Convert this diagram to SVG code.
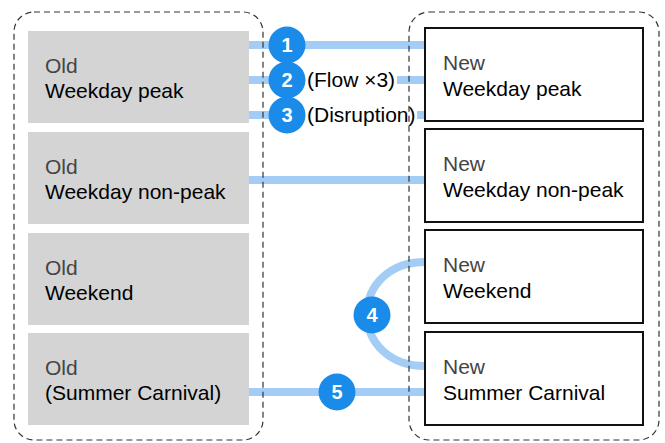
<svg xmlns="http://www.w3.org/2000/svg" width="665" height="443" viewBox="0 0 665 443">
<style>
.cont{fill:none;stroke:#333;stroke-width:1.2;stroke-dasharray:6 4}
.old{fill:#d4d4d4}
.new{fill:#fff;stroke:#111;stroke-width:2}
.lt{font-family:"Liberation Sans",Arial,sans-serif;font-size:21px;fill:#444}
.tt{font-family:"Liberation Sans",Arial,sans-serif;font-size:21px;fill:#000}
.lbl{font-family:"Liberation Sans",Arial,sans-serif;font-size:21px;fill:#000}
.ln{fill:none;stroke:#a3cdf5;stroke-width:8}
.cir{fill:#1a8be8}
.num{font-family:"Liberation Sans",Arial,sans-serif;font-size:20px;font-weight:bold;fill:#fff;text-anchor:middle}
</style>
<rect width="665" height="443" fill="#fff"/>
<g id="connectors">
<line class="ln" x1="249" y1="45" x2="425" y2="45"/>
<line class="ln" x1="249" y1="80" x2="425" y2="80"/>
<line class="ln" x1="249" y1="115" x2="425" y2="115"/>
<line class="ln" x1="249" y1="180" x2="425" y2="180"/>
<path class="ln" d="M425,262 C390,262 367,285 367,314 C367,343 390,366 425,366"/>
<line class="ln" x1="249" y1="392" x2="425" y2="392"/>
<rect x="305" y="66" width="92" height="28" fill="#fff"/>
<rect x="305" y="101" width="112" height="28" fill="#fff"/>
<text class="lbl" x="307" y="87">(Flow ×3)</text>
<text class="lbl" x="307" y="122">(Disruption)</text>
</g>
<g id="containers">
<rect id="old-group" class="cont" x="14" y="12" width="249" height="428" rx="20"/>
<rect id="new-group" class="cont" x="409" y="12" width="250" height="428" rx="20"/>
</g>
<g id="old-peak"><rect class="old" x="28" y="31" width="221" height="92"/><text class="lt" x="45" y="73">Old</text><text class="tt" x="45" y="98">Weekday peak</text></g>
<g id="old-nonpeak"><rect class="old" x="28" y="132" width="221" height="92"/><text class="lt" x="45" y="174">Old</text><text class="tt" x="45" y="199">Weekday non-peak</text></g>
<g id="old-weekend"><rect class="old" x="28" y="233" width="221" height="92"/><text class="lt" x="45" y="275">Old</text><text class="tt" x="45" y="300">Weekend</text></g>
<g id="old-summer"><rect class="old" x="28" y="333" width="221" height="92"/><text class="lt" x="45" y="375">Old</text><text class="tt" x="45" y="400">(Summer Carnival)</text></g>
<g id="new-peak"><rect class="new" x="425" y="28" width="218" height="93"/><text class="lt" x="443" y="70">New</text><text class="tt" x="443" y="96">Weekday peak</text></g>
<g id="new-nonpeak"><rect class="new" x="425" y="129" width="218" height="93"/><text class="lt" x="443" y="171">New</text><text class="tt" x="443" y="197">Weekday non-peak</text></g>
<g id="new-weekend"><rect class="new" x="425" y="230" width="218" height="93"/><text class="lt" x="443" y="272">New</text><text class="tt" x="443" y="298">Weekend</text></g>
<g id="new-summer"><rect class="new" x="425" y="332" width="218" height="93"/><text class="lt" x="443" y="374">New</text><text class="tt" x="443" y="400">Summer Carnival</text></g>
<g id="badges">
<circle class="cir" cx="287" cy="45" r="18.5"/><text class="num" x="287" y="52">1</text>
<circle class="cir" cx="287" cy="80" r="18.5"/><text class="num" x="287" y="87">2</text>
<circle class="cir" cx="287" cy="115" r="18.5"/><text class="num" x="287" y="122">3</text>
<circle class="cir" cx="372" cy="315" r="18.5"/><text class="num" x="372" y="322">4</text>
<circle class="cir" cx="337" cy="392" r="18.5"/><text class="num" x="337" y="399">5</text>
</g>
</svg>
